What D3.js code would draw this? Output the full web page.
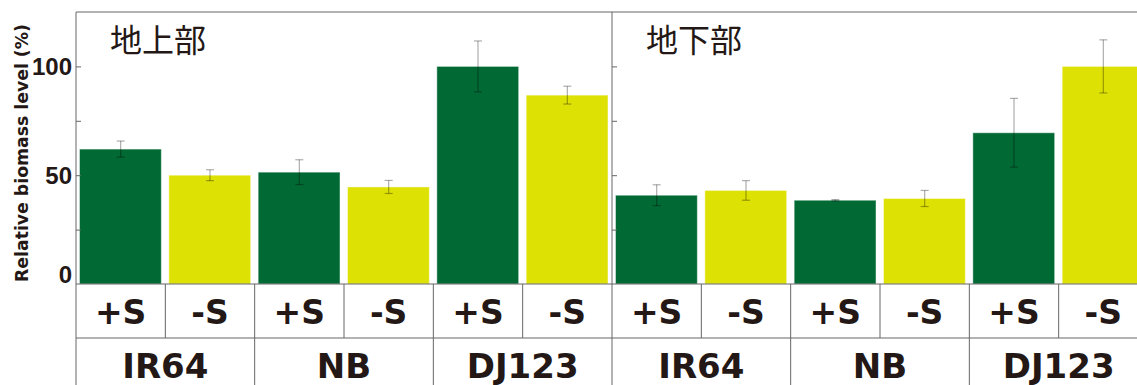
<!DOCTYPE html>
<html>
<head>
<meta charset="utf-8">
<title>Relative biomass level</title>
<script src="https://d3js.org/d3.v7.min.js"></script>
<style>
  body { margin: 0; background: #fff; }
  svg { display: block; }
  .lbl { font-family: "Liberation Sans", Arial, sans-serif; font-weight: bold; fill: #231815; }
  .wide { font-family: "DejaVu Sans", sans-serif; font-weight: bold; fill: #231815; }
  .ttl { font-family: "Noto Sans CJK JP", sans-serif; fill: #231815; }
</style>
</head>
<body>
<svg id="chart" width="1137" height="385"></svg>
<script>
// data
var panels = ["地上部", "地下部"];
var groups = ["IR64", "NB", "DJ123"];
var treatments = ["+S", "-S"];
var shootMean = [62, 50, 51.4, 44.6, 100, 86.8];
var shootErr  = [3.7, 2.5, 5.7, 3.0, 11.7, 4.1];
var rootMean  = [40.8, 43, 38.5, 39.3, 69.5, 100];
var rootErr   = [4.8, 4.5, 0.3, 3.7, 15.8, 12.2];
var yTicks = [0, 25, 50, 75, 100];
var yLabels = [0, 50, 100];

var means = [shootMean, rootMean];
var errs = [shootErr, rootErr];
var colors = {"+S": "#006934", "-S": "#dee104"};
var lineCol = "#666";

var svg = d3.select("#chart");
var left = 76, topY = 12, base = 284, row2 = 338, bottom = 385;
var panelW = 536;

var y = d3.scaleLinear().domain([0, 125]).range([base, topY]);

// categories: group x treatment
var cats = [];
groups.forEach(function(g){ treatments.forEach(function(t){ cats.push(g + "|" + t); }); });

var panelX = d3.scaleBand().domain(panels).range([left, left + 2 * panelW]);

panels.forEach(function(p, pi){
  var x0 = panelX(p);
  var x = d3.scaleBand().domain(cats).range([x0, x0 + panelW]);
  var gx = d3.scaleBand().domain(groups).range([x0, x0 + panelW]);
  var g = svg.append("g");

  var rows = cats.map(function(c, i){
    return {cat: c, grp: c.split("|")[0], trt: c.split("|")[1], v: means[pi][i], e: errs[pi][i]};
  });

  // bars
  g.selectAll("rect.bar").data(rows).join("rect")
    .attr("class", "bar")
    .attr("x", function(d){ return x(d.cat) + 3.5; })
    .attr("width", x.bandwidth() - 7.5)
    .attr("y", function(d){ return y(d.v); })
    .attr("height", function(d){ return y(0) - y(d.v); })
    .attr("fill", function(d){ return colors[d.trt]; })
    .attr("stroke", "rgba(255,255,255,0.45)")
    .attr("stroke-width", 1);

  // error bars
  var eb = g.selectAll("g.err").data(rows).join("g").attr("class", "err")
    .attr("stroke", "rgba(0,0,0,0.32)").attr("stroke-width", 1.2);
  eb.append("line")
    .attr("x1", function(d){ return x(d.cat) + x.bandwidth() / 2; })
    .attr("x2", function(d){ return x(d.cat) + x.bandwidth() / 2; })
    .attr("y1", function(d){ return y(d.v - d.e); })
    .attr("y2", function(d){ return y(d.v + d.e); });
  [-1, 1].forEach(function(s){
    eb.append("line")
      .attr("x1", function(d){ return x(d.cat) + x.bandwidth() / 2 - 4; })
      .attr("x2", function(d){ return x(d.cat) + x.bandwidth() / 2 + 4; })
      .attr("y1", function(d){ return y(d.v + s * d.e); })
      .attr("y2", function(d){ return y(d.v + s * d.e); });
  });

  // inward ticks
  g.append("g")
    .attr("transform", "translate(" + x0 + ",0)")
    .call(d3.axisRight(y).tickValues(yTicks.slice(1)).tickSize(5).tickFormat(""))
    .call(function(a){ a.select(".domain").remove(); a.selectAll("line").attr("stroke", lineCol); });

  // panel title
  g.append("text").attr("class", "ttl")
    .attr("x", x0 + 34).attr("y", 52)
    .attr("font-size", 32)
    .text(p);

  // treatment labels
  g.selectAll("text.trt").data(rows).join("text")
    .attr("class", "wide trt")
    .attr("x", function(d){ return x(d.cat) + x.bandwidth() / 2; })
    .attr("y", 324)
    .attr("text-anchor", "middle")
    .attr("font-size", 33)
    .text(function(d){ return d.trt; });

  // group labels
  g.selectAll("text.grp").data(groups).join("text")
    .attr("class", "wide grp")
    .attr("x", function(d){ return gx(d) + gx.bandwidth() / 2; })
    .attr("y", 378)
    .attr("text-anchor", "middle")
    .attr("font-size", 34)
    .text(function(d){ return d; });

  // table lines
  g.selectAll("line.sep").data(cats.slice(1)).join("line")
    .attr("class", "sep")
    .attr("x1", function(d){ return x(d); }).attr("x2", function(d){ return x(d); })
    .attr("y1", base).attr("y2", row2)
    .attr("stroke", lineCol);
  g.selectAll("line.gsep").data(groups.slice(1)).join("line")
    .attr("class", "gsep")
    .attr("x1", function(d){ return gx(d); }).attr("x2", function(d){ return gx(d); })
    .attr("y1", row2).attr("y2", bottom)
    .attr("stroke", lineCol);
  g.append("line")
    .attr("x1", x0).attr("x2", x0).attr("y1", topY).attr("y2", bottom)
    .attr("stroke", lineCol);
});

// horizontal frame lines
[topY, base, row2].forEach(function(yy){
  svg.append("line").attr("x1", left).attr("x2", 1137).attr("y1", yy).attr("y2", yy)
    .attr("stroke", lineCol);
});

// y tick labels
svg.append("g").selectAll("text").data(yLabels).join("text")
  .attr("class", "lbl")
  .attr("x", left - 4)
  .attr("y", function(d){ return d === 0 ? y(d) - 1 : y(d) + 8.5; })
  .attr("text-anchor", "end")
  .attr("font-size", 24)
  .text(function(d){ return d; });

// y axis title
svg.append("text").attr("class", "wide")
  .attr("transform", "translate(28,153) rotate(-90)")
  .attr("text-anchor", "middle")
  .attr("font-size", 17)
  .attr("textLength", 258)
  .attr("lengthAdjust", "spacingAndGlyphs")
  .text("Relative  biomass level (%)");
</script>
</body>
</html>
